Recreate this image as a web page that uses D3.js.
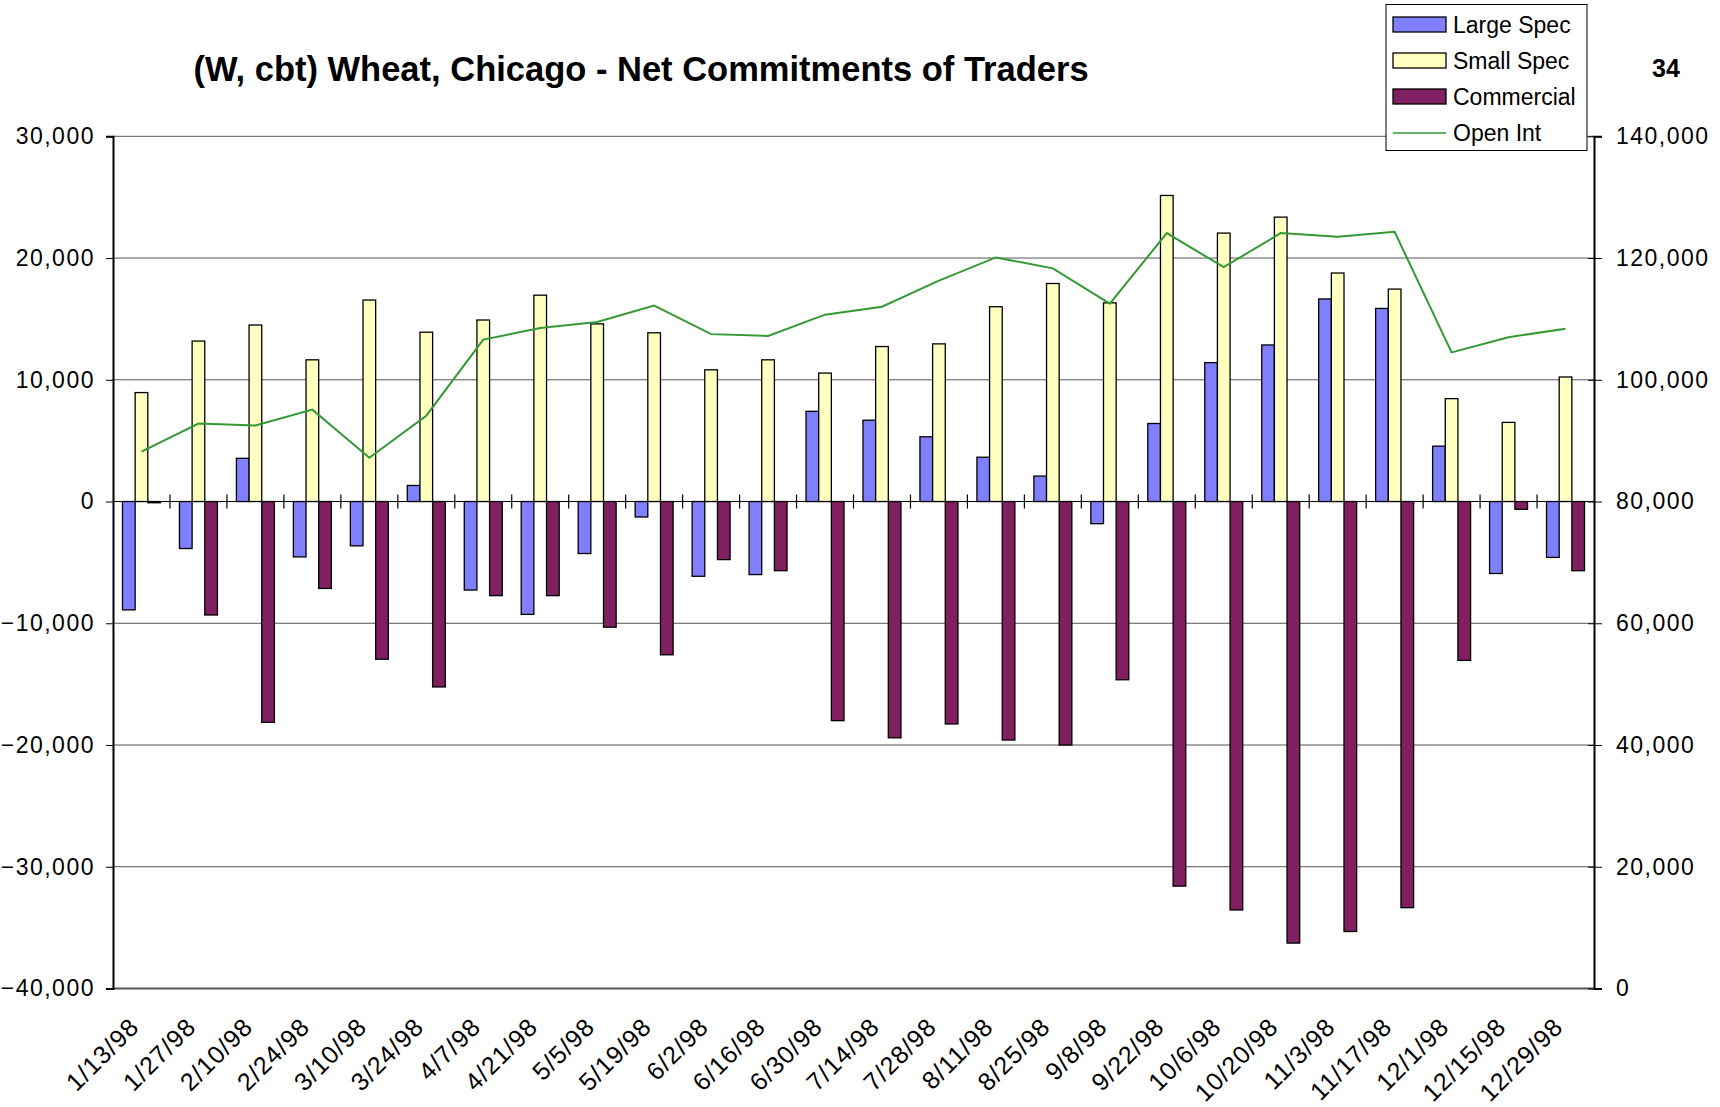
<!DOCTYPE html>
<html>
<head>
	<meta charset="utf-8">
	<title>Wheat COT</title>
	<style>
		body { margin: 0; background: #fff; }
		svg { display: block; font-family: "Liberation Sans", Arial, sans-serif; }
		.grid line { stroke: #555; stroke-width: 1; }
		.axis path, .axis line { stroke: #000; }
		.axis text { font-size: 23px; letter-spacing: 1.5px; fill: #000; }
		.bar { stroke: #000; stroke-width: 1.3; }
	</style>
</head>
<body>
	<div id="chart"></div>
	<script src="https://cdnjs.cloudflare.com/ajax/libs/d3/7.8.5/d3.min.js"></script>
	<script>
	// Data
	var dates = ["1/13/98", "1/27/98", "2/10/98", "2/24/98", "3/10/98", "3/24/98", "4/7/98",
		"4/21/98", "5/5/98", "5/19/98", "6/2/98", "6/16/98", "6/30/98", "7/14/98", "7/28/98",
		"8/11/98", "8/25/98", "9/8/98", "9/22/98", "10/6/98", "10/20/98", "11/3/98", "11/17/98",
		"12/1/98", "12/15/98", "12/29/98"]
	var largeSpec = [-8900, -3860, 3550, -4550, -3640, 1320, -7270, -9270, -4270, -1270, -6140,
		-6000, 7410, 6680, 5320, 3640, 2090, -1820, 6410, 11410, 12860, 16640, 15860, 4550,
		-5910, -4590]
	var smallSpec = [8950, 13180, 14500, 11640, 16550, 13910, 14910, 16950, 14590, 13860, 10820,
		11640, 10550, 12730, 12950, 16000, 17910, 16320, 25140, 22050, 23360, 18770, 17450, 8450,
		6500, 10230]
	var commercial = [-100, -9320, -18140, -7140, -12950, -15230, -7730, -7730, -10320, -12590,
		-4770, -5680, -18000, -19410, -18270, -19590, -20000, -14640, -31590, -33550, -36270,
		-35320, -33360, -13050, -640, -5680]
	var openInt = [88200, 92800, 92500, 95100, 87200, 94100, 106600, 108500, 109500, 112200,
		107500, 107200, 110700, 112000, 116300, 120100, 118300, 112500, 124100, 118500, 124100,
		123500, 124300, 104500, 107000, 108400]
	var leftTicks = [-40000, -30000, -20000, -10000, 0, 10000, 20000, 30000]
	var rightTicks = [0, 20000, 40000, 60000, 80000, 100000, 120000, 140000]

	var seriesNames = ["Large Spec", "Small Spec", "Commercial"]
	var seriesColors = ["#8080ff", "#ffffc0", "#802060"]
	var lineColor = "#339933"

	// Canvas and plot box
	var width = 1720, height = 1107
	var plotLeft = 113, plotRight = 1594, plotTop = 136.3, plotBottom = 988.5

	var svg = d3.select("#chart").append("svg")
		.attr("width", width)
		.attr("height", height)

	var x = d3.scaleBand().domain(dates).range([plotLeft, plotRight])
		.paddingInner(1 / 3).paddingOuter(1 / 6)
	var xs = d3.scaleBand().domain(seriesNames).range([0, x.bandwidth()])
	var yL = d3.scaleLinear().domain([-40000, 30000]).range([plotBottom, plotTop])
	var yR = d3.scaleLinear().domain([0, 140000]).range([plotBottom, plotTop])
	var step = x.step()

	// Gridlines
	svg.append("g").attr("class", "grid")
		.selectAll("line").data(leftTicks).join("line")
		.attr("x1", plotLeft).attr("x2", plotRight)
		.attr("y1", function(d){ return yL(d) }).attr("y2", function(d){ return yL(d) })

	// Bars
	var rows = dates.map(function(d, i){
		return { date: d, values: [largeSpec[i], smallSpec[i], commercial[i]] }
	})
	var groups = svg.append("g").selectAll("g").data(rows).join("g")
		.attr("transform", function(d){ return "translate(" + x(d.date) + ",0)" })
	groups.selectAll("rect")
		.data(function(d){ return d.values.map(function(v, j){ return { name: seriesNames[j], v: v, j: j } }) })
		.join("rect")
		.attr("class", "bar")
		.attr("x", function(d){ return xs(d.name) })
		.attr("width", xs.bandwidth())
		.attr("y", function(d){ return Math.min(yL(d.v), yL(0)) })
		.attr("height", function(d){ return Math.max(1, Math.abs(yL(d.v) - yL(0))) })
		.attr("fill", function(d){ return seriesColors[d.j] })

	// Category axis at zero, with crossing ticks on the boundaries
	svg.append("line")
		.attr("x1", plotLeft).attr("x2", plotRight)
		.attr("y1", yL(0)).attr("y2", yL(0))
		.attr("stroke", "#000")
	svg.append("g").selectAll("line").data(dates.slice(1)).join("line")
		.attr("x1", function(d){ return x(d) - step / 6 })
		.attr("x2", function(d){ return x(d) - step / 6 })
		.attr("y1", yL(0) - 7).attr("y2", yL(0) + 7)
		.attr("stroke", "#000").attr("stroke-width", 1.2)

	// Open interest line
	var line = d3.line()
		.x(function(d, i){ return x(dates[i]) + x.bandwidth() / 2 })
		.y(function(d){ return yR(d) })
	svg.append("path")
		.datum(openInt)
		.attr("d", line)
		.attr("fill", "none")
		.attr("stroke", lineColor)
		.attr("stroke-width", 2)

	// Bottom border
	svg.append("line")
		.attr("x1", plotLeft).attr("x2", plotRight)
		.attr("y1", plotBottom).attr("y2", plotBottom)
		.attr("stroke", "#555").attr("stroke-width", 2)

	// Left axis
	var axL = svg.append("g").attr("class", "axis")
		.attr("transform", "translate(" + plotLeft + ",0)")
		.call(d3.axisLeft(yL).tickValues(leftTicks).tickSize(7).tickPadding(11)
			.tickFormat(d3.format(",")))
	axL.select(".domain").attr("stroke-width", 2)

	// Right axis
	var axR = svg.append("g").attr("class", "axis")
		.attr("transform", "translate(" + plotRight + ",0)")
		.call(d3.axisRight(yR).tickValues(rightTicks).tickSize(8).tickPadding(14)
			.tickFormat(d3.format(",")))
	axR.select(".domain").attr("stroke-width", 2)
	axR.selectAll(".tick line").attr("x1", -6)

	// Date labels
	svg.append("g").selectAll("text").data(dates).join("text")
		.attr("transform", function(d){
			return "translate(" + (x(d) + x.bandwidth() / 2 - 1) + "," + (plotBottom + 40) + ") rotate(-45)"
		})
		.attr("text-anchor", "end")
		.attr("font-size", 25)
		.attr("letter-spacing", "1px")
		.text(function(d){ return d })

	// Title and page number
	svg.append("text")
		.attr("x", 641).attr("y", 81)
		.attr("text-anchor", "middle")
		.attr("font-size", 34.5).attr("font-weight", "bold")
		.text("(W, cbt) Wheat, Chicago - Net Commitments of Traders")
	svg.append("text")
		.attr("x", 1666).attr("y", 77)
		.attr("text-anchor", "middle")
		.attr("font-size", 25).attr("font-weight", "bold")
		.text("34")

	// Legend
	var legend = svg.append("g")
	legend.append("rect")
		.attr("x", 1386).attr("y", 4.5).attr("width", 201).attr("height", 146)
		.attr("fill", "#fff").attr("stroke", "#000")
	var legendItems = seriesNames.concat(["Open Int"])
	var li = legend.selectAll("g").data(legendItems).join("g")
		.attr("transform", function(d, i){ return "translate(0," + (i * 36) + ")" })
	li.filter(function(d, i){ return i < 3 }).append("rect")
		.attr("x", 1393).attr("y", 17).attr("width", 53).attr("height", 15)
		.attr("fill", function(d, i){ return seriesColors[i] })
		.attr("stroke", "#000").attr("stroke-width", 1.3)
	li.filter(function(d, i){ return i == 3 }).append("line")
		.attr("x1", 1393).attr("x2", 1446).attr("y1", 25).attr("y2", 25)
		.attr("stroke", lineColor).attr("stroke-width", 1.5)
	li.append("text")
		.attr("x", 1453).attr("y", 32.5)
		.attr("font-size", 23)
		.text(function(d){ return d })
	</script>
</body>
</html>
